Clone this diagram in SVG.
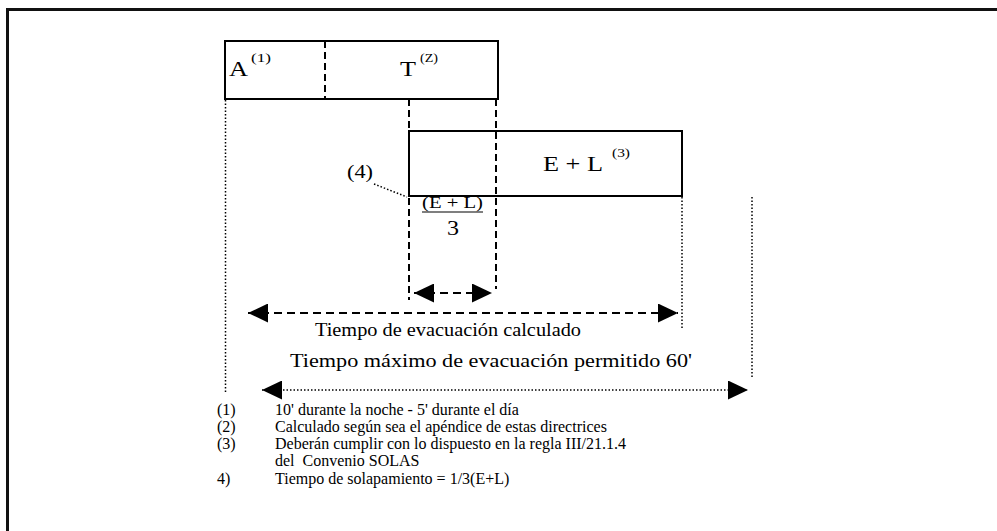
<svg xmlns="http://www.w3.org/2000/svg" width="997" height="531" viewBox="0 0 997 531">
<style>
text{font-family:"Liberation Serif","Times New Roman",serif;fill:#000}
.box{fill:none;stroke:#000;stroke-width:2}
.dash{fill:none;stroke:#000;stroke-width:2;stroke-dasharray:7 4}
.dashh{fill:none;stroke:#000;stroke-width:2;stroke-dasharray:8 5}
.dot{fill:none;stroke:#000;stroke-width:1.5;stroke-dasharray:1.5 2}
.lbl{font-size:22px}
.sup{font-size:13px}
.t18{font-size:18px}
.leg{font-size:16px}
.frac{font-size:16px}
</style>
<defs>
<marker id="ah" markerUnits="userSpaceOnUse" markerWidth="20" markerHeight="19" refX="20" refY="9.5" orient="auto-start-reverse" viewBox="0 0 20 19">
<path d="M0,0 L20,9.5 L0,19 z" fill="#000"/>
</marker>
</defs>
<rect width="997" height="531" fill="#fff"/>
<g id="frame">
<path d="M7.5,531 L7.5,9.5 L997,9.5" fill="none" stroke="#111" stroke-width="3"/>
</g>
<g id="connectors">
<line class="dash" x1="409" y1="99" x2="409" y2="300"/>
<line class="dash" x1="496" y1="99" x2="496" y2="289"/>
<line class="dot" x1="225.5" y1="100" x2="225.5" y2="393"/>
<line class="dot" x1="682" y1="197" x2="682" y2="329"/>
<line class="dot" x1="752" y1="197" x2="752" y2="378"/>
<line class="dot" x1="374" y1="184" x2="407" y2="197"/>
<line class="dashh" x1="414" y1="293" x2="492" y2="293" marker-start="url(#ah)" marker-end="url(#ah)"/>
<line class="dashh" x1="248" y1="313" x2="678" y2="313" marker-start="url(#ah)" marker-end="url(#ah)"/>
<line class="dot" x1="262" y1="390" x2="748" y2="390" marker-start="url(#ah)" marker-end="url(#ah)"/>
</g>
<g id="node-AT">
<rect class="box" x="225" y="41" width="273" height="58"/>
<line class="dash" x1="325" y1="41" x2="325" y2="99"/>
<text class="lbl" x="229" y="76" textLength="19" lengthAdjust="spacingAndGlyphs">A</text>
<text class="sup" x="251" y="62" textLength="20" lengthAdjust="spacingAndGlyphs">(1)</text>
<text class="lbl" x="400" y="76" textLength="16" lengthAdjust="spacingAndGlyphs">T</text>
<text class="sup" x="420" y="62" textLength="18" lengthAdjust="spacingAndGlyphs">(Z)</text>
</g>
<g id="node-EL">
<rect class="box" x="409" y="131" width="273" height="65"/>
<text class="lbl" x="543" y="171" textLength="60" lengthAdjust="spacingAndGlyphs">E + L</text>
<text class="sup" x="612" y="157" textLength="18" lengthAdjust="spacingAndGlyphs">(3)</text>
</g>
<g id="overlap-label">
<text class="t18" x="347" y="178" textLength="26" lengthAdjust="spacingAndGlyphs">(4)</text>
<text class="frac" x="422" y="208" textLength="61" lengthAdjust="spacingAndGlyphs">(E + L)</text>
<line x1="422" y1="212" x2="483" y2="212" stroke="#000" stroke-width="1.2"/>
<text x="447" y="235" font-size="20" textLength="12" lengthAdjust="spacingAndGlyphs">3</text>
</g>
<g id="time-labels">
<text class="t18" x="315" y="336" textLength="266" lengthAdjust="spacingAndGlyphs">Tiempo de evacuación calculado</text>
<text class="t18" x="290" y="367" textLength="402" lengthAdjust="spacingAndGlyphs">Tiempo máximo de evacuación permitido 60'</text>
</g>
<g id="legend">
<text class="leg" x="217" y="415">(1)</text>
<text class="leg" x="275" y="415">10' durante la noche - 5' durante el día</text>
<text class="leg" x="217" y="432">(2)</text>
<text class="leg" x="275" y="432">Calculado según sea el apéndice de estas directrices</text>
<text class="leg" x="217" y="449">(3)</text>
<text class="leg" x="275" y="449">Deberán cumplir con lo dispuesto en la regla III/21.1.4</text>
<text class="leg" x="275" y="466" xml:space="preserve">del  Convenio SOLAS</text>
<text class="leg" x="217" y="484">4)</text>
<text class="leg" x="275" y="484">Tiempo de solapamiento = 1/3(E+L)</text>
</g>
</svg>
